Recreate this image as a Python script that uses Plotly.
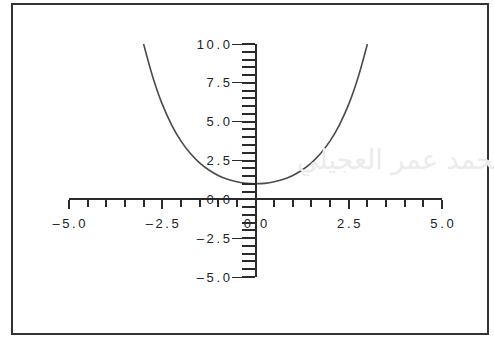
import plotly.graph_objects as go

# Curve samples (x, y) for the even, bowl-shaped function
x_vals = [-3.0, -2.75, -2.5, -2.25, -2.0, -1.75, -1.5, -1.25, -1.0, -0.75, -0.5, -0.25, 0.0,
          0.25, 0.5, 0.75, 1.0, 1.25, 1.5, 1.75, 2.0, 2.25, 2.5, 2.75, 3.0]
y_vals = [10.0, 7.85, 6.13, 4.8, 3.76, 2.96, 2.35, 1.89, 1.54, 1.29, 1.13, 1.03, 1.0,
          1.03, 1.13, 1.29, 1.54, 1.89, 2.35, 2.96, 3.76, 4.8, 6.13, 7.85, 10.0]

x_tickvals = [-5.0, -2.5, 0.0, 2.5, 5.0]
x_ticklabels = ["\u20135.0", "\u20132.5", "0.0", "2.5", "5.0"]
y_tickvals = [-5.0, -2.5, 0.0, 2.5, 5.0, 7.5, 10.0]
y_ticklabels = ["\u20135.0", "\u20132.5", "0.0", "2.5", "5.0", "7.5", "10.0"]

W, H = 494, 340
ML, MR, MT, MB = 69, 52, 44, 63
pw, ph = W - ML - MR, H - MT - MB


def px_to_paper_x(px):
    return (px - ML) / pw


def px_to_paper_y(py):
    return (H - MB - py) / ph


def spaced(label):
    # widen tick labels with thin spaces between characters
    return "\u2009".join(label)


ink = "#2a2a2a"
tick_font = dict(family="Liberation Sans, Arial, sans-serif", size=13, color="#222222")

fig = go.Figure()
fig.add_trace(go.Scatter(
    x=x_vals, y=y_vals, mode="lines",
    line=dict(color="#4a4a4a", width=1.6, shape="spline", smoothing=1.0),
    hoverinfo="skip", showlegend=False,
))

fig.update_layout(
    width=W, height=H,
    margin=dict(l=ML, r=MR, t=MT, b=MB, pad=0),
    paper_bgcolor="white", plot_bgcolor="white",
    showlegend=False,
    xaxis=dict(
        range=[-5, 5], anchor="free", position=1/3,
        showgrid=False, zeroline=False,
        showline=True, linecolor=ink, linewidth=2,
        tickmode="array", tickvals=x_tickvals, ticktext=[spaced(t) for t in x_ticklabels],
        ticks="outside", ticklen=9, tickwidth=2, tickcolor=ink,
        tickfont=tick_font, ticklabelstandoff=3,
        minor=dict(dtick=0.5, tick0=0, ticks="outside", ticklen=7, tickwidth=2, tickcolor=ink),
    ),
    yaxis=dict(
        range=[-5, 10], anchor="free", position=0.5,
        showgrid=False, zeroline=False,
        showline=True, linecolor=ink, linewidth=2,
        tickmode="array", tickvals=y_tickvals, ticktext=[spaced(t) for t in y_ticklabels],
        ticks="outside", ticklen=23, tickwidth=1.2, tickcolor=ink,
        tickfont=tick_font, ticklabelstandoff=-1,
        minor=dict(dtick=0.5, tick0=0, ticks="outside", ticklen=13, tickwidth=2, tickcolor=ink),
    ),
    shapes=[dict(
        type="rect", xref="paper", yref="paper",
        x0=px_to_paper_x(12), x1=px_to_paper_x(488),
        y0=px_to_paper_y(334), y1=px_to_paper_y(4),
        line=dict(color="#333333", width=2), fillcolor="rgba(0,0,0,0)", layer="above",
    )],
    annotations=[dict(
        text="محمد عمر العجيلي", xref="paper", yref="paper",
        x=px_to_paper_x(510), y=px_to_paper_y(160), xanchor="right", yanchor="middle",
        showarrow=False,
        font=dict(family="DejaVu Sans, sans-serif", size=27, color="#ebebeb"),
    )],
)

fig.write_html("out.html")
